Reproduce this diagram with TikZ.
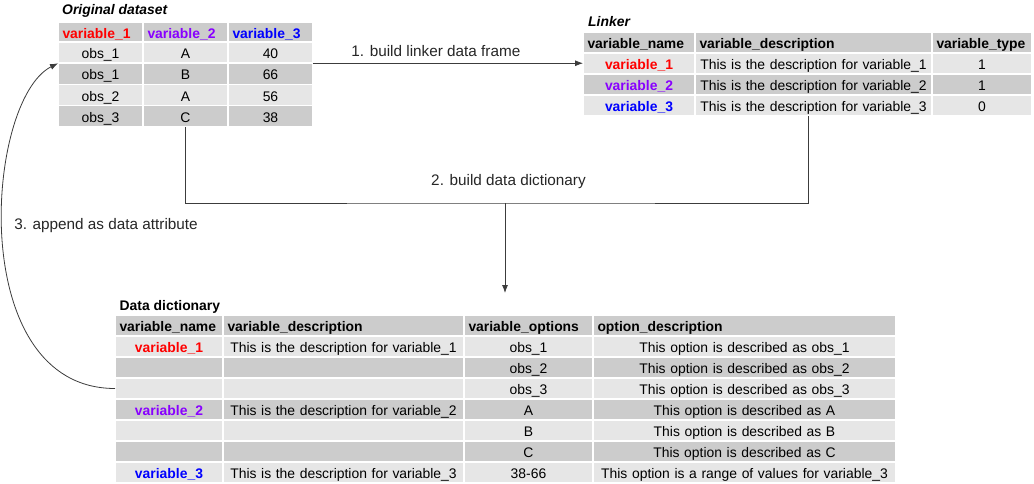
\documentclass[tikz,border=0pt]{standalone}
\usepackage{fontspec}
\setmainfont{Liberation Sans}
\usepackage{xcolor}
\usetikzlibrary{arrows.meta,positioning,calc}
\definecolor{varone}{RGB}{255,0,0}
\definecolor{vartwo}{RGB}{136,0,255}
\definecolor{varthree}{RGB}{0,0,255}
\definecolor{rowlight}{RGB}{230,230,230}
\definecolor{rowdark}{RGB}{204,204,204}
\definecolor{linkgray}{RGB}{60,60,60}
\newcommand{\tabfont}{\fontsize{13.9}{16}\selectfont}
\newcommand{\lblfont}{\fontsize{15.3}{18}\selectfont}
\tikzset{
  cell/.style={rectangle, draw=white, line width=1.5pt, outer sep=0pt, inner xsep=4.5pt, inner ysep=0pt,
               minimum height=21pt, text height=12pt, text depth=0pt, font=\tabfont, anchor=north west, align=center},
  head/.style={cell, fill=rowdark, font=\tabfont\bfseries, align=left},
  title/.style={anchor=base west, inner sep=0pt, font=\tabfont\bfseries},
  line/.style={draw=linkgray, line width=0.8pt},
  arrow/.style={line, -{Latex[length=8pt,width=6pt]}},
  lbl/.style={inner sep=1pt, font=\lblfont, text=black!85}
}

\begin{document}
\begin{tikzpicture}[x=1pt, y=-1pt]
\useasboundingbox (0,0) rectangle (1034,484);

% original dataset
\node[title] (origtitle) at (62,15) {\itshape Original dataset};
\foreach \x/\w/\c/\t [count=\i] in {58/85/varone/variable\_1, 143/85/vartwo/variable\_2, 228/85/varthree/variable\_3}
  \node[head, text width=\w pt-9pt, text=\c] (orig-0-\i) at (\x,22) {\t};
\foreach \a/\b/\c [count=\r] in {obs\_1/A/40, obs\_1/B/66, obs\_2/A/56, obs\_3/C/38}{
  \ifodd\r \def\shade{rowlight}\else \def\shade{rowdark}\fi
  \pgfmathsetmacro\y{42+21.25*(\r-1)}
  \node[cell, fill=\shade, text width=76pt, minimum height=21.25pt] (orig-\r-1) at (58,\y) {\a};
  \node[cell, fill=\shade, text width=76pt, minimum height=21.25pt] (orig-\r-2) at (143,\y) {\b};
  \node[cell, fill=\shade, text width=76pt, minimum height=21.25pt] (orig-\r-3) at (228,\y) {\c};
}

% linker
\node[title] (linktitle) at (588,26.7) {\itshape Linker};
\foreach \x/\w/\t [count=\i] in {583/112/variable\_name, 695/237/variable\_description, 932/100/variable\_type}
  \node[head, text width=\w pt-9pt] (link-0-\i) at (\x,32) {\t};
\foreach \c/\a/\b [count=\r] in {varone/variable\_1/1, vartwo/variable\_2/1, varthree/variable\_3/0}{
  \ifodd\r \def\shade{rowlight}\else \def\shade{rowdark}\fi
  \pgfmathsetmacro\y{53+21*(\r-1)}
  \node[cell, fill=\shade, text width=103pt, text=\c, font=\tabfont\bfseries] (link-\r-1) at (583,\y) {\a};
  \node[cell, fill=\shade, text width=228pt] (link-\r-2) at (695,\y) {This is the description for \a};
  \node[cell, fill=\shade, text width=91pt] (link-\r-3) at (932,\y) {\b};
}

% data dictionary
\node[title] (dicttitle) at (119.5,310) {Data dictionary};
\foreach \x/\w/\t [count=\i] in {115/108/variable\_name, 223/241/variable\_description, 464/129/variable\_options, 593/303/option\_description}
  \node[head, text width=\w pt-9pt] (dict-0-\i) at (\x,315) {\t};
\foreach \c/\a/\b/\o/\d [count=\r] in {
    varone/variable\_1/This is the description for variable\_1/obs\_1/This option is described as obs\_1,
    black/{}/{}/obs\_2/This option is described as obs\_2,
    black/{}/{}/obs\_3/This option is described as obs\_3,
    vartwo/variable\_2/This is the description for variable\_2/A/This option is described as A,
    black/{}/{}/B/This option is described as B,
    black/{}/{}/C/This option is described as C,
    varthree/variable\_3/This is the description for variable\_3/38-66/This option is a range of values for variable\_3}{
  \ifodd\r \def\shade{rowlight}\else \def\shade{rowdark}\fi
  \pgfmathsetmacro\y{336+21*(\r-1)}
  \node[cell, fill=\shade, text width=99pt, text=\c, font=\tabfont\bfseries] (dict-\r-1) at (115,\y) {\a};
  \node[cell, fill=\shade, text width=232pt] (dict-\r-2) at (223,\y) {\b};
  \node[cell, fill=\shade, text width=120pt] (dict-\r-3) at (464,\y) {\o};
  \node[cell, fill=\shade, text width=294pt] (dict-\r-4) at (593,\y) {\d};
}

% connectors
\draw[arrow] (orig-1-3.south east) -- (orig-1-3.south east -| link-1-1.west)
  node[lbl, pos=0.455, above=5pt] (lab1) {1. build linker data frame};

\coordinate (split) at (505,203);
\coordinate (linkdrop) at ([xshift=-5.5pt]link-3-2.south);
\coordinate (dictin) at (505,293);
\draw[line] (orig-4-2.south) |- (split) -| (linkdrop);
\draw[arrow] (split) -- (dictin);
\node[lbl] (lab2) at (508.5,182) {2. build data dictionary};

\draw[arrow] (dict-3-1.west) .. controls +(-150,0) and +(-73,37) .. (orig-1-1.south west);
\node[lbl] (lab3) at (106,226) {3. append as data attribute};

\end{tikzpicture}
\end{document}
